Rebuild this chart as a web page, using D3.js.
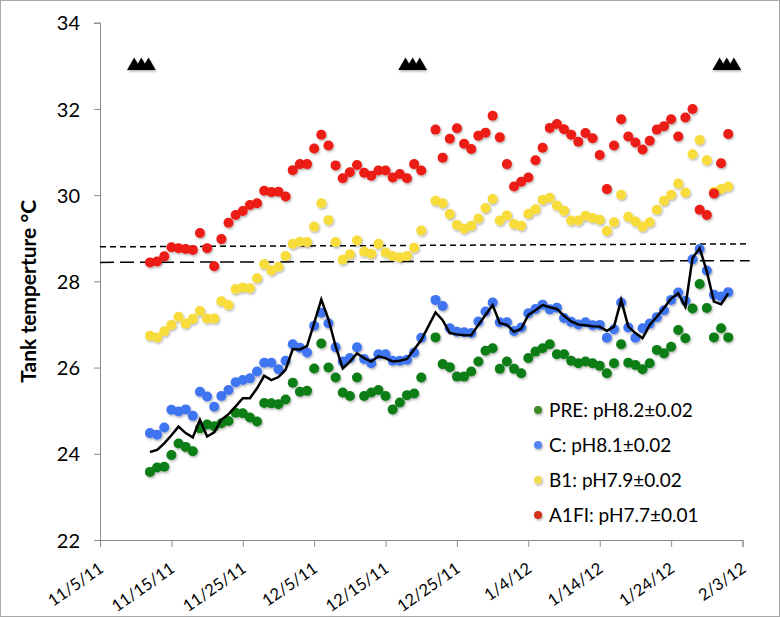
<!DOCTYPE html>
<html>
<head>
<meta charset="utf-8">
<title>Tank temperature</title>
<script src="https://cdnjs.cloudflare.com/ajax/libs/d3/7.8.5/d3.min.js"></script>
<style>
  body { margin: 0; background: #fff; }
  #chart { width: 780px; height: 617px; }
  text { font-family: Lato, "Open Sans", sans-serif; fill: #000; }
</style>
</head>
<body>
<div id="chart"></div>
<script>
// sampling days (12/21/11 missing)
var dates = [
  "11/12/11","11/13/11","11/14/11","11/15/11","11/16/11","11/17/11","11/18/11","11/19/11","11/20/11","11/21/11",
  "11/22/11","11/23/11","11/24/11","11/25/11","11/26/11","11/27/11","11/28/11","11/29/11","11/30/11","12/1/11",
  "12/2/11","12/3/11","12/4/11","12/5/11","12/6/11","12/7/11","12/8/11","12/9/11","12/10/11","12/11/11",
  "12/12/11","12/13/11","12/14/11","12/15/11","12/16/11","12/17/11","12/18/11","12/19/11","12/20/11",
  "12/22/11","12/23/11","12/24/11","12/25/11","12/26/11","12/27/11","12/28/11","12/29/11","12/30/11","12/31/11",
  "1/1/12","1/2/12","1/3/12","1/4/12","1/5/12","1/6/12","1/7/12","1/8/12","1/9/12","1/10/12",
  "1/11/12","1/12/12","1/13/12","1/14/12","1/15/12","1/16/12","1/17/12","1/18/12","1/19/12","1/20/12",
  "1/21/12","1/22/12","1/23/12","1/24/12","1/25/12","1/26/12","1/27/12","1/28/12","1/29/12","1/30/12",
  "1/31/12","2/1/12"
];

var pre = [
  23.58,23.68,23.70,23.97,24.24,24.16,24.06,24.59,24.68,24.64,
  24.71,24.76,24.95,24.94,24.84,24.75,25.18,25.17,25.15,25.26,
  25.65,25.44,25.46,25.98,26.56,26.00,25.77,25.42,25.34,25.77,
  25.34,25.42,25.48,25.34,25.03,25.19,25.36,25.40,25.77,
  26.70,26.08,26.01,25.79,25.79,25.91,26.14,26.39,26.45,25.97,
  26.14,25.97,25.87,26.22,26.37,26.45,26.54,26.31,26.31,26.16,
  26.10,26.14,26.10,26.04,25.87,26.10,26.54,26.11,26.06,25.96,
  26.10,26.41,26.33,26.48,26.87,26.68,27.37,27.94,27.38,26.70,26.91,26.70
];
var ctrl = [
  24.48,24.44,24.61,25.02,24.98,25.03,24.88,25.44,25.33,25.09,
  25.34,25.48,25.66,25.71,25.75,25.91,26.11,26.11,25.96,26.16,
  26.54,26.46,26.35,26.97,27.27,27.03,26.47,26.14,26.22,26.47,
  26.20,26.10,26.31,26.31,26.16,26.16,26.18,26.35,26.69,
  27.57,27.43,26.91,26.83,26.82,26.80,27.07,27.30,27.51,27.05,
  27.05,26.85,26.93,27.26,27.36,27.46,27.35,27.39,27.15,27.06,
  27.00,27.05,26.98,26.99,26.69,26.89,27.51,26.93,26.69,26.91,
  27.02,27.17,27.33,27.57,27.74,27.55,28.51,28.75,28.25,27.69,27.65,27.75
];
var b1 = [
  26.74,26.70,26.84,26.99,27.18,27.02,27.13,27.31,27.14,27.14,
  27.54,27.45,27.82,27.86,27.84,28.07,28.40,28.25,28.34,28.59,
  28.87,28.92,28.91,29.27,29.81,29.42,28.91,28.50,28.63,28.95,
  28.69,28.64,28.87,28.67,28.59,28.56,28.59,28.78,29.18,
  29.87,29.81,29.56,29.31,29.22,29.29,29.46,29.70,29.91,29.41,
  29.53,29.33,29.29,29.57,29.67,29.89,29.94,29.76,29.64,29.41,
  29.41,29.52,29.47,29.43,29.17,29.37,30.01,29.50,29.39,29.27,
  29.37,29.66,29.87,30.01,30.27,30.06,30.95,31.28,30.81,30.08,30.14,30.20
];
var a1fi = [
  28.44,28.46,28.58,28.79,28.77,28.75,28.73,29.12,28.77,28.35,
  28.98,29.36,29.54,29.63,29.77,29.81,30.10,30.07,30.08,29.97,
  30.58,30.72,30.72,31.08,31.40,31.15,30.69,30.39,30.53,30.70,
  30.52,30.45,30.57,30.57,30.41,30.49,30.39,30.72,30.57,
  31.52,30.87,31.31,31.55,31.19,31.07,31.38,31.45,31.84,31.34,
  30.72,30.20,30.31,30.41,30.81,31.10,31.56,31.65,31.53,31.40,
  31.24,31.44,31.32,30.93,30.14,31.15,31.76,31.36,31.22,31.06,
  31.26,31.52,31.60,31.76,31.36,31.80,32.00,29.66,29.54,30.04,30.74,31.42
];
// black line
var meanLine = [
  24.04,24.09,24.24,24.43,24.63,24.48,24.38,24.79,24.40,24.50,
  24.79,24.92,25.10,25.29,25.29,25.52,25.81,25.71,25.78,25.95,
  26.43,26.42,26.50,27.03,27.58,27.12,26.50,25.98,26.14,26.33,
  26.22,26.14,26.26,26.22,26.14,26.16,26.20,26.42,26.64,
  27.28,27.10,26.80,26.77,26.75,26.75,26.99,27.22,27.45,27.03,
  26.99,26.83,26.90,27.22,27.33,27.45,27.40,27.36,27.20,27.07,
  27.00,26.98,26.96,26.95,26.85,26.95,27.57,26.95,26.80,26.68,
  26.99,27.18,27.38,27.60,27.72,27.41,28.54,28.77,28.23,27.53,27.47,27.72
];

var seriesNames = ["PRE: pH8.2\u00b10.02", "C: pH8.1\u00b10.02", "B1: pH7.9\u00b10.02", "A1FI: pH7.7\u00b10.01"];
var seriesColors = ["#0e7d14", "#3f74f2", "#f7dc3a", "#ec1a12"];
var legendColors = ["#3f8a26", "#5585f2", "#f0dc52", "#d5301a"];

// threshold lines: [start date, end date, start value, end value]
var shortDashLine = ["11/5/11", "2/4/12", 28.80, 28.87];
var longDashLine = ["11/5/11", "2/4/12", 28.44, 28.48];

// sampling events (triangles)
var eventDates = ["11/10/11","11/11/11","11/12/11","12/18/11","12/19/11","12/20/11","1/31/12","2/1/12","2/2/12"];
var eventLevel = 33;

var xTickLabels = ["11/5/11","11/15/11","11/25/11","12/5/11","12/15/11","12/25/11","1/4/12","1/14/12","1/24/12","2/3/12"];
var yTicks = [22, 24, 26, 28, 30, 32, 34];

var parse = d3.timeParse("%m/%d/%y");
var days = dates.map(parse);

var W = 780, H = 617;
var plotLeft = 100, plotRight = 742.5, plotTop = 22.7, plotBottom = 540;

var x = d3.scaleTime()
  .domain([parse("11/5/11"), parse("2/3/12")])
  .range([plotLeft, plotRight]);
var y = d3.scaleLinear().domain([22, 34]).range([plotBottom, plotTop]);

var svg = d3.select("#chart").append("svg")
  .attr("width", W)
  .attr("height", H);

var defs = svg.append("defs");
var f = defs.append("filter").attr("id", "shadow")
  .attr("x", "-50%").attr("y", "-50%").attr("width", "200%").attr("height", "200%");
f.append("feDropShadow")
  .attr("dx", 1).attr("dy", 1.5).attr("stdDeviation", 0.9)
  .attr("flood-color", "#000").attr("flood-opacity", 0.3);

svg.append("rect")
  .attr("x", 0.5).attr("y", 0.5)
  .attr("width", W - 1).attr("height", H - 1)
  .attr("fill", "#fff").attr("stroke", "#a8a8a8");

// axes
var yAxis = svg.append("g")
  .attr("transform", "translate(" + plotLeft + ",0)")
  .call(d3.axisLeft(y).tickValues(yTicks).tickSize(6).tickPadding(14).tickFormat(d3.format("d")));
yAxis.select(".domain").attr("stroke", "#8c8c8c");
yAxis.selectAll(".tick line").attr("stroke", "#8c8c8c");
yAxis.selectAll(".tick text").style("font-size", "20px").attr("dy", "0.36em");

var xAxis = svg.append("g")
  .attr("transform", "translate(0," + plotBottom + ")")
  .call(d3.axisBottom(x).tickValues(xTickLabels.map(parse)).tickSize(7).tickFormat(function(d, i) { return xTickLabels[i]; }));
xAxis.select(".domain").attr("stroke", "#8c8c8c");
xAxis.selectAll(".tick line").attr("stroke", "#8c8c8c");
xAxis.selectAll(".tick text")
  .style("font-size", "16.5px")
  .attr("text-anchor", "end")
  .attr("dy", 0)
  .attr("y", 0)
  .attr("transform", "translate(4,31) rotate(-35)");

svg.append("text")
  .attr("transform", "translate(36," + ((plotTop + plotBottom) / 2 + 10) + ") rotate(-90)")
  .attr("text-anchor", "middle")
  .style("font-size", "21px")
  .style("font-weight", "bold")
  .text("Tank temperture \u00b0C");

// dashed reference lines
[[shortDashLine, "6,4"], [longDashLine, "14,6"]].forEach(function(p) {
  var l = p[0];
  svg.append("line")
    .attr("x1", x(parse(l[0]))).attr("x2", x(parse(l[1])))
    .attr("y1", y(l[2])).attr("y2", y(l[3]))
    .attr("stroke", "#000").attr("stroke-width", 1.5)
    .attr("stroke-dasharray", p[1]);
});

// points
var allSeries = [pre, ctrl, b1, a1fi];
allSeries.forEach(function(vals, s) {
  svg.append("g").attr("filter", "url(#shadow)")
    .selectAll("circle")
    .data(vals)
    .enter().append("circle")
    .attr("cx", function(d, i) { return x(days[i]); })
    .attr("cy", function(d) { return y(d); })
    .attr("r", 5)
    .attr("fill", seriesColors[s]);
});

// black line
var line = d3.line()
  .x(function(d, i) { return x(days[i]); })
  .y(function(d) { return y(d); });
svg.append("path")
  .datum(meanLine)
  .attr("d", line)
  .attr("fill", "none")
  .attr("stroke", "#000")
  .attr("stroke-width", 2.5)
  .attr("stroke-linejoin", "miter");

// triangles
svg.append("g").attr("filter", "url(#shadow)")
  .selectAll("path")
  .data(eventDates)
  .enter().append("path")
  .attr("d", d3.symbol().type(d3.symbolTriangle).size(90))
  .attr("transform", function(d) { return "translate(" + (x(parse(d)) - 1.5) + "," + y(eventLevel) + ")"; })
  .attr("fill", "#000");

// legend
var lg = svg.append("g");
seriesNames.forEach(function(name, i) {
  var ly = 410 + i * 35;
  lg.append("circle")
    .attr("cx", 538).attr("cy", ly)
    .attr("r", 4)
    .attr("fill", legendColors[i])
    .attr("filter", "url(#shadow)");
  lg.append("text")
    .attr("x", 549).attr("y", ly)
    .attr("dy", "0.36em")
    .style("font-size", "19px")
    .text(name);
});
</script>
</body>
</html>
